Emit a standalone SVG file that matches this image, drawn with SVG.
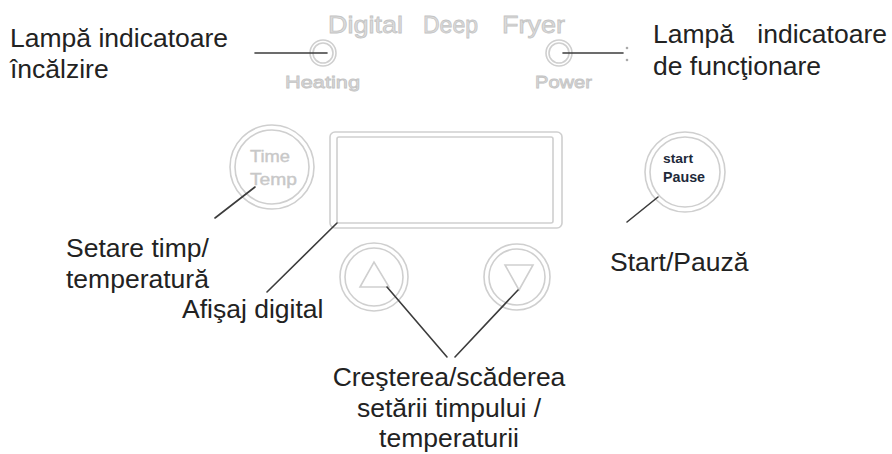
<svg xmlns="http://www.w3.org/2000/svg" width="892" height="454" viewBox="0 0 892 454">
<style>
.lbl{font-family:"Liberation Sans",Arial,sans-serif;font-size:26.5px;fill:#222}
.ring{fill:none;stroke:#cfcfcf;stroke-width:1.6}
.panel{font-family:"Liberation Sans",Arial,sans-serif;fill:#dcdcdc;stroke:#c4c4c4;stroke-width:0.8}
.btn{font-family:"Liberation Sans",Arial,sans-serif;fill:#c8c8c8;stroke:#c8c8c8;stroke-width:0.4}
.ln{stroke:#3c3c3c;stroke-width:1.6;fill:none;stroke-linecap:round}
.sp{font-family:"Liberation Sans",Arial,sans-serif;font-weight:bold;fill:#1e2a3a}
</style>
<rect width="892" height="454" fill="#fff"/>
<g id="panel-title">
<text class="panel" font-size="24" x="328" y="33" textLength="75" lengthAdjust="spacingAndGlyphs">Digital</text>
<text class="panel" font-size="24" x="423" y="33" textLength="55" lengthAdjust="spacingAndGlyphs">Deep</text>
<text class="panel" font-size="24" x="502" y="33" textLength="63" lengthAdjust="spacingAndGlyphs">Fryer</text>
</g>
<g id="heating-lamp">
<circle class="ring" cx="323" cy="53" r="13"/>
<circle class="ring" cx="323" cy="53" r="10" stroke-width="1"/>
<text class="panel" font-size="17" x="285" y="88" textLength="75" lengthAdjust="spacingAndGlyphs">Heating</text>
</g>
<g id="power-lamp">
<circle class="ring" cx="559" cy="53" r="13"/>
<circle class="ring" cx="559" cy="53" r="10" stroke-width="1"/>
<text class="panel" font-size="17" x="535" y="88" textLength="57" lengthAdjust="spacingAndGlyphs">Power</text>
</g>
<g id="time-temp-button">
<circle class="ring" cx="272" cy="167" r="42"/>
<circle class="ring" cx="272" cy="167" r="37" stroke-width="1.2"/>
<text class="btn" font-size="16" x="250" y="162" textLength="40" lengthAdjust="spacingAndGlyphs">Time</text>
<text class="btn" font-size="16" x="250" y="185" textLength="47" lengthAdjust="spacingAndGlyphs">Temp</text>
</g>
<g id="display">
<rect class="ring" x="330" y="132" width="232" height="96" rx="5"/>
<rect class="ring" x="337" y="137" width="216" height="86" rx="2" stroke-width="1.2"/>
</g>
<g id="start-pause-button">
<circle class="ring" cx="685" cy="172" r="40"/>
<circle class="ring" cx="685" cy="172" r="35" stroke-width="1.2"/>
<text class="sp" font-size="13" x="663" y="163" textLength="30" lengthAdjust="spacingAndGlyphs">start</text>
<text class="sp" font-size="14" x="663" y="182" textLength="42" lengthAdjust="spacingAndGlyphs">Pause</text>
</g>
<g id="up-button">
<circle class="ring" cx="374" cy="277" r="34"/>
<circle class="ring" cx="374" cy="277" r="29" stroke-width="1.2"/>
<polygon class="ring" points="360,287 389,287 374,262"/>
</g>
<g id="down-button">
<circle class="ring" cx="517" cy="277" r="33"/>
<circle class="ring" cx="517" cy="277" r="28" stroke-width="1.2"/>
<polygon class="ring" points="505,265 533,265 519,290"/>
</g>
<g id="connectors">
<line class="ln" x1="255" y1="53" x2="327" y2="53"/>
<line class="ln" x1="563" y1="53" x2="623" y2="53"/>
<line class="ln" x1="255" y1="187" x2="215" y2="218"/>
<line class="ln" x1="337" y1="223" x2="267" y2="292"/>
<line class="ln" x1="658" y1="197" x2="627" y2="222"/>
<line class="ln" x1="387" y1="287" x2="447" y2="357"/>
<line class="ln" x1="518" y1="290" x2="455" y2="357"/>
<circle cx="627" cy="48" r="1.3" fill="#aaa"/>
<circle cx="627" cy="60" r="1.3" fill="#aaa"/>
</g>
<g id="label-heating">
<text class="lbl" x="10" y="47">Lampă indicatoare</text>
<text class="lbl" x="10" y="78">încălzire</text>
</g>
<g id="label-power">
<text class="lbl" x="653" y="43">Lampă</text>
<text class="lbl" x="887" y="43" text-anchor="end">indicatoare</text>
<text class="lbl" x="653" y="75">de funcţionare</text>
</g>
<g id="label-time-temp">
<text class="lbl" x="66" y="257">Setare timp/</text>
<text class="lbl" x="66" y="288">temperatură</text>
</g>
<g id="label-display">
<text class="lbl" x="182" y="318">Afişaj digital</text>
</g>
<g id="label-start">
<text class="lbl" x="610" y="271">Start/Pauză</text>
</g>
<g id="label-updown">
<text class="lbl" x="449" y="386" text-anchor="middle">Creşterea/scăderea</text>
<text class="lbl" x="449" y="417" text-anchor="middle">setării timpului /</text>
<text class="lbl" x="449" y="447" text-anchor="middle">temperaturii</text>
</g>
</svg>
